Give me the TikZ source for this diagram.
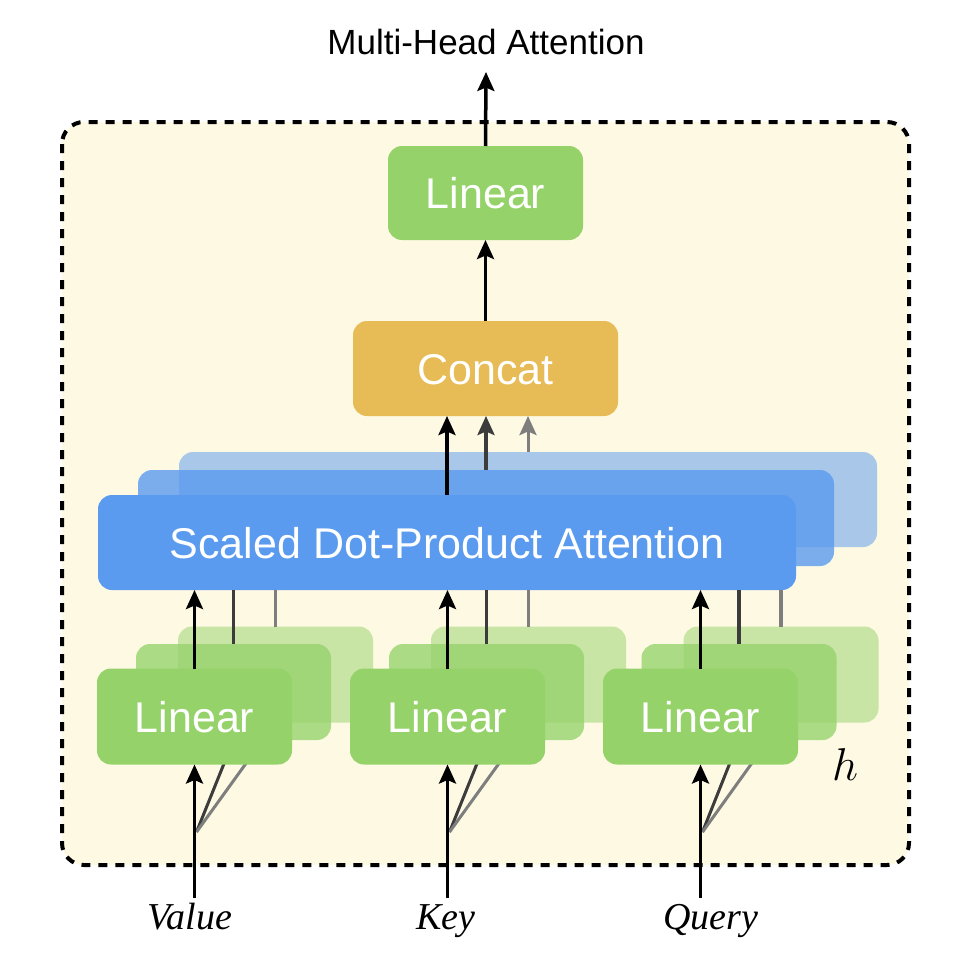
\RequirePackage{fix-cm}
\documentclass[tikz,border=0pt]{standalone}
\usepackage{fontspec}
\newfontfamily\boxfont{Liberation Sans}
\newfontfamily\serifit{Liberation Serif}
\usetikzlibrary{arrows.meta,calc}
\definecolor{cream}{HTML}{FDF9E3}
\definecolor{lgreen}{HTML}{95D36A}
\definecolor{cgold}{HTML}{E7BC57}
\definecolor{sblue}{HTML}{5B9BEF}
\definecolor{dgray}{HTML}{3C3C3C}
\definecolor{lgray}{HTML}{7E7E7E}
\begin{document}
\begin{tikzpicture}[x=1pt,y=-1pt,
  box/.style={rounded corners=14pt, inner sep=0pt, outer sep=0pt, text=white,
    font=\boxfont\fontsize{43}{50}\selectfont, text height=31pt, text depth=0pt},
  linbox/.style={box, fill=lgreen, minimum width=195pt, minimum height=96pt},
  sdpabox/.style={box, fill=sblue, minimum width=698pt, minimum height=95pt},
  arr/.style={line width=3.5pt, -{Stealth[length=19pt,width=17pt,inset=3.5pt]}},
  gline/.style={line width=3.5pt},
  fan/.style={line width=3pt},
  inlbl/.style={font=\serifit\itshape\fontsize{38}{44}\selectfont, anchor=base, inner sep=0pt}
]
\useasboundingbox (0,0) rectangle (956,966);
\fill[white] (0,0) rectangle (956,966);
% outer dashed frame
\draw[fill=cream, line width=4pt, dash pattern=on 9pt off 8pt, rounded corners=22pt]
  (62,122) rectangle (909,865);

% title
\node[font=\boxfont\fontsize{35}{40}\selectfont, inner sep=0pt] (title) at (486,42) {Multi-Head Attention};

% top linear and concat
\node[box, fill=lgreen, minimum width=195pt, minimum height=94pt] (lin) at (485.5,193) {Linear};
\node[box, fill=cgold, minimum width=265pt, minimum height=95pt] (concat) at (485.5,368.5) {Concat};

% scaled dot-product attention stack
\node[sdpabox, fill opacity=0.52] (s3) at (528,499.5) {};
\node[sdpabox, fill opacity=0.8, minimum width=696pt, minimum height=96pt] (s2) at (486,518) {};
\node[sdpabox] (s1) at (447,542.5) {Scaled Dot-Product Attention};

% linear stacks: back
\node[linbox, fill opacity=0.5] (v3) at (275.5,674.5) {};
\node[linbox, fill opacity=0.5] (k3) at (528.5,674.5) {};
\node[linbox, fill opacity=0.5] (q3) at (781,674.5) {};
% middle
\node[linbox, fill opacity=0.78] (v2) at (233.5,692) {};
\node[linbox, fill opacity=0.78] (k2) at (486.5,692) {};
\node[linbox, fill opacity=0.78] (q2) at (739,692) {};

% input coordinates
\coordinate (vin) at (194.5,898);
\coordinate (kin) at (447.5,898);
\coordinate (qin) at (700.5,898);
\coordinate (vfan) at (196.5,832);
\coordinate (kfan) at (449.5,832);
\coordinate (qfan) at (702.5,832);

% fan lines (behind front boxes)
\foreach \g in {v,k,q}{
  \draw[fan, dgray] (\g fan) -- (\g2.south);
  \draw[fan, lgray] (\g fan) -- (\g3.south);
}

% front linear boxes
\node[linbox] (v1) at (194.5,716.5) {Linear};
\node[linbox] (k1) at (447.5,716.5) {Linear};
\node[linbox] (q1) at (700.5,716.5) {Linear};

% inputs
\foreach \g in {v,k,q}{
  \draw[arr] (\g in) -- (\g1.south);
  \draw[arr] (\g1.north) -- (\g1.north |- s1.south);
  \draw[gline, dgray] (\g2.north) -- (\g2.north |- s1.south);
  \draw[gline, lgray] (\g3.north) -- (\g3.north |- s1.south);
}

% into concat
\draw[arr] (s1.north) -- (s1.north |- concat.south);
\draw[arr, dgray] (s2.north) -- (s2.north |- concat.south);
\draw[arr, lgray, line width=3pt] (s3.north) -- (s3.north |- concat.south);

% concat -> linear -> output
\draw[arr] (concat.north) -- (lin.south);
\coordinate (outtip) at (486,72);
\draw[arr] (lin.north) -- (outtip);

% labels
\node[inlbl] (vl) at (190,929) {Value};
\node[inlbl] (kl) at (446,929) {Key};
\node[inlbl] (ql) at (711,929) {Query};
\node[inner sep=0pt, font=\fontsize{46}{50}\selectfont] (hl) at (845,765) {$h$};
\end{tikzpicture}
\end{document}
